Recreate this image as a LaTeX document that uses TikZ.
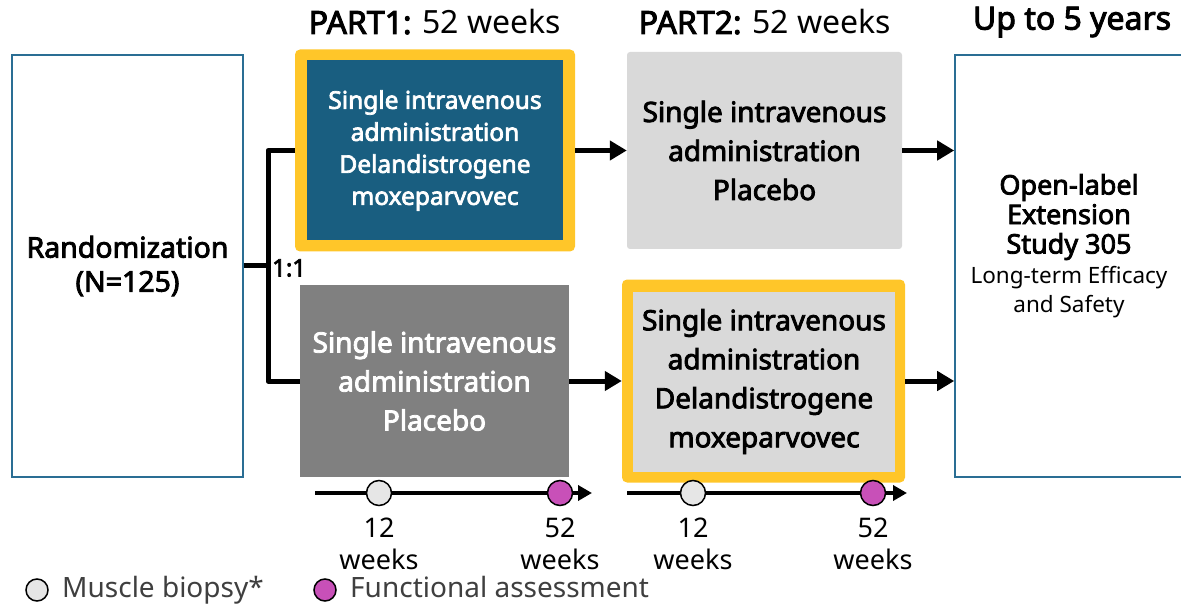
\documentclass[tikz,border=0pt]{standalone}
\usepackage{fontspec}
\setmainfont{Noto Sans}[BoldFont={Noto Sans}, BoldFeatures={FakeBold=3}]
\usetikzlibrary{arrows.meta}

\definecolor{sideblue}{HTML}{2A6E94}
\definecolor{deepteal}{HTML}{195E80}
\definecolor{gold}{HTML}{FFC629}
\definecolor{lightgrey}{HTML}{D9D9D9}
\definecolor{midgrey}{HTML}{808080}
\definecolor{biopsygrey}{HTML}{E6E6E6}
\definecolor{assessmag}{HTML}{C850B8}
\definecolor{legendtext}{HTML}{3F3F3F}

\newcommand{\fs}[2]{\fontsize{#1}{#2}\selectfont}

\tikzset{
  sidebox/.style={draw=sideblue, line width=1.6pt, fill=white, inner sep=0pt},
  frame/.style={fill=gold, rounded corners=5pt, inner sep=0pt},
  armbox/.style={inner sep=0pt, align=center, font=\bfseries\fs{28}{39}},
  link/.style={line width=5pt, line join=round},
  arr/.style={line width=5pt, -{Triangle[length=17pt,width=19pt]}},
  tline/.style={line width=4.5pt, -{Triangle[length=14pt,width=15pt]}},
  biopsy/.style={circle, draw=black, line width=1.5pt, fill=biopsygrey, minimum size=25pt, inner sep=0pt},
  assess/.style={circle, draw=black, line width=1.5pt, fill=assessmag, minimum size=25pt, inner sep=0pt},
  wk/.style={align=center, inner sep=0pt, font=\fs{27}{32}},
  head/.style={font=\fs{32}{36}},
}

\begin{document}
\begin{tikzpicture}[x=1pt,y=-1pt]
\useasboundingbox (0,0) rectangle (1181,604);

% column headings
\node[head] (h1) at (435,22) {\textbf{PART1:} 52 weeks};
\node[head] (h2) at (765,22) {\textbf{PART2:} 52 weeks};
\node[head] (h3) at (1072,22) {\textbf{Up to 5 years}};

% randomization and extension study boxes
\node[sidebox, minimum width=231pt, minimum height=422pt] (rand) at (127.5,266) {};
\node[align=center, font=\bfseries\fs{28.5}{34}] (randtxt) at (127.5,266) {Randomization\\(N=125)};

\node[sidebox, minimum width=232pt, minimum height=422pt] (ext) at (1071,266) {};
\node[align=center, font=\bfseries\fs{27}{29.5}] (exttxt) at (1069,246)
  {Open-label\\Extension\\Study 305\\\mdseries\fs{22.5}{26}Long-term Efficacy\\\mdseries\fs{22.5}{25}and Safety};

% part 1 arms
\node[frame, minimum width=280pt, minimum height=202pt] (a1f) at (435,150.5) {};
\node[armbox, fill=deepteal, text=white, font=\bfseries\fs{24.5}{32},
      minimum width=256pt, minimum height=180pt] (a1) at (435,150.5)
  {Single intravenous\\administration\\Delandistrogene\\moxeparvovec};

\node[armbox, fill=midgrey, text=white, minimum width=269pt, minimum height=192pt] (b1) at (434.5,381)
  {Single intravenous\\administration\\Placebo};

% part 2 arms
\node[armbox, fill=lightgrey, rounded corners=3pt, minimum width=275pt, minimum height=197pt] (a2) at (764.5,150.5)
  {Single intravenous\\administration\\Placebo};

\node[frame, minimum width=283pt, minimum height=203pt] (b2f) at (763.5,381) {};
\node[armbox, fill=lightgrey, minimum width=262pt, minimum height=180pt] (b2) at (764,381.5)
  {Single intravenous\\administration\\Delandistrogene\\moxeparvovec};

% randomization split
\coordinate (split) at (268,266);
\draw[link] (rand.east) -- (split);
\draw[link] (a1f.west) -| (split) |- (b1.west);
\node[font=\bfseries\fs{24}{26}, anchor=west, inner sep=2pt] (ratio) at (270,268) {1:1};

% flow arrows
\draw[arr] (a1f.east) -- (a2.west);
\draw[arr] (a2.east) -- (a2.east -| ext.west);
\draw[arr] (b1.east) -- (b2f.west);
\draw[arr] (b2f.east) -- (b2f.east -| ext.west);

% assessment timelines
\coordinate (t1s) at (315,493);
\coordinate (t1e) at (592,493);
\draw[tline] (t1s) -- (t1e);
\node[biopsy] (t1b) at (379,493) {};
\node[assess] (t1a) at (560,493) {};
\node[wk] (t1bl) at (379,544) {12\\weeks};
\node[wk] (t1al) at (560,544) {52\\weeks};

\coordinate (t2s) at (627,493);
\coordinate (t2e) at (907,493);
\draw[tline] (t2s) -- (t2e);
\node[biopsy] (t2b) at (693,493) {};
\node[assess] (t2a) at (873,493) {};
\node[wk] (t2bl) at (693,544) {12\\weeks};
\node[wk] (t2al) at (873,544) {52\\weeks};

% legend
\node[biopsy, minimum size=22pt] (lb) at (37,590) {};
\node[anchor=base west, text=legendtext, font=\fs{28}{30}, inner sep=0pt] (lbt) at (62,597) {Muscle biopsy*};
\node[assess, minimum size=22pt] (la) at (325,590) {};
\node[anchor=base west, text=legendtext, font=\fs{28}{30}, inner sep=0pt] (lat) at (350,597) {Functional assessment};
\end{tikzpicture}
\end{document}
